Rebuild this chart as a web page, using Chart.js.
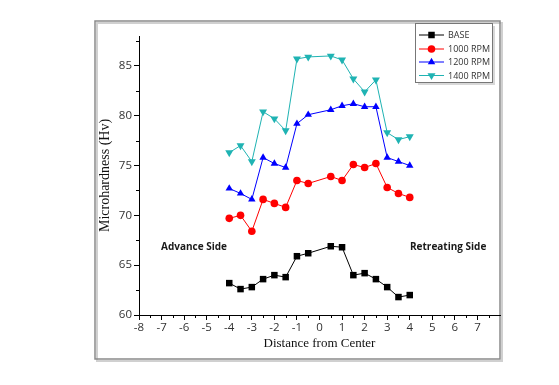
<!DOCTYPE html>
<html>
<head>
<meta charset="utf-8">
<script src="https://cdn.jsdelivr.net/npm/chart.js@4.4.0/dist/chart.umd.min.js"></script>
<style>
html,body{margin:0;padding:0;background:#fff;}
#wrap{width:559px;height:385px;position:relative;}
</style>
</head>
<body>
<div id="wrap"><canvas id="c" width="559" height="385"></canvas></div>
<script>
const positions = [-4, -3.5, -3, -2.5, -2, -1.5, -1, -0.5, 0.5, 1, 1.5, 2, 2.5, 3, 3.5, 4];
const base    = [63.2, 62.6, 62.8, 63.6, 64.0, 63.8, 65.9, 66.2, 66.9, 66.8, 64.0, 64.2, 63.6, 62.8, 61.8, 62.0];
const rpm1000 = [69.7, 70.0, 68.4, 71.6, 71.2, 70.8, 73.5, 73.2, 73.9, 73.5, 75.1, 74.8, 75.2, 72.8, 72.2, 71.8];
const rpm1200 = [72.7, 72.2, 71.6, 75.8, 75.2, 74.8, 79.2, 80.1, 80.6, 81.0, 81.2, 80.9, 80.9, 75.8, 75.4, 75.0];
const rpm1400 = [76.3, 77.0, 75.4, 80.4, 79.7, 78.5, 85.7, 85.9, 86.0, 85.6, 83.7, 82.4, 83.6, 78.3, 77.6, 77.9];
const seriesNames = ['BASE', '1000 RPM', '1200 RPM', '1400 RPM'];
const xTickLabels = [-8, -7, -6, -5, -4, -3, -2, -1, 0, 1, 2, 3, 4, 5, 6, 7];
const yTickLabels = [60, 65, 70, 75, 80, 85];
const sideLabels = ['Advance Side', 'Retreating Side'];

const toPts = arr => arr.map((v, i) => ({x: positions[i], y: v}));

const styles = [
  {color: '#000000', pointStyle: 'rect', radius: 4.6, rotation: 0},
  {color: '#ff0000', pointStyle: 'circle', radius: 3.8, rotation: 0},
  {color: '#0000ff', pointStyle: 'triangle', radius: 4.3, rotation: 0},
  {color: '#1fb3b3', pointStyle: 'triangle', radius: 4.6, rotation: 180}
];
const allData = [base, rpm1000, rpm1200, rpm1400];

const datasets = allData.map((d, i) => ({
  label: seriesNames[i],
  data: toPts(d),
  borderColor: styles[i].color,
  backgroundColor: styles[i].color,
  borderWidth: 1,
  pointStyle: styles[i].pointStyle,
  pointRadius: styles[i].radius,
  pointRotation: styles[i].rotation,
  pointBorderWidth: 0,
  pointHoverRadius: styles[i].radius,
  tension: 0,
  showLine: true
}));

const decor = {
  id: 'decor',
  beforeDraw(chart) {
    const ctx = chart.ctx;
    ctx.save();
    ctx.fillStyle = '#fff';
    ctx.fillRect(0, 0, chart.width, chart.height);
    ctx.strokeStyle = '#d0d0d0';
    ctx.lineWidth = 2;
    ctx.strokeRect(97, 23, 405, 338);
    ctx.strokeStyle = '#8a8a8a';
    ctx.lineWidth = 1.5;
    ctx.strokeRect(95, 21, 405, 338);
    ctx.restore();
  },
  afterDraw(chart) {
    const ctx = chart.ctx;
    const xs = chart.scales.x, ys = chart.scales.y;
    ctx.save();
    ctx.strokeStyle = '#000';
    ctx.lineWidth = 1;
    ctx.beginPath();
    for (let v = -7.5; v < 8; v += 1) {
      const px = Math.round(xs.getPixelForValue(v)) + 0.5;
      ctx.moveTo(px, ys.bottom);
      ctx.lineTo(px, ys.bottom + 3);
    }
    for (let v = 62.5; v < 88; v += 5) {
      const py = Math.round(ys.getPixelForValue(v)) + 0.5;
      ctx.moveTo(xs.left - 3, py);
      ctx.lineTo(xs.left, py);
    }
    ctx.stroke();

    ctx.fillStyle = '#1a1a1a';
    ctx.font = 'bold 10px "Open Sans"';
    ctx.textBaseline = 'middle';
    ctx.textAlign = 'left';
    ctx.fillText(sideLabels[0], 161, 247);
    ctx.fillText(sideLabels[1], 410, 247);

    const lx = 415, ly = 23, lw = 77, lh = 59;
    ctx.fillStyle = '#d8d8d8';
    ctx.fillRect(lx + 3, ly + 3, lw, lh);
    ctx.fillStyle = '#fff';
    ctx.fillRect(lx, ly, lw, lh);
    ctx.strokeStyle = '#777';
    ctx.lineWidth = 1;
    ctx.strokeRect(lx + 0.5, ly + 0.5, lw, lh);
    const rowsY = [35, 49, 62, 75.5];
    chart.data.datasets.forEach((ds, i) => {
      const y = rowsY[i];
      ctx.strokeStyle = ds.borderColor;
      ctx.lineWidth = 1;
      ctx.beginPath();
      ctx.moveTo(419, y);
      ctx.lineTo(444, y);
      ctx.stroke();
      ctx.fillStyle = ds.backgroundColor;
      Chart.helpers.drawPoint(ctx, {pointStyle: ds.pointStyle, radius: ds.pointRadius, rotation: ds.pointRotation, borderWidth: 0}, 431.5, y);
      ctx.fillStyle = '#333';
      ctx.font = '9px "Open Sans"';
      ctx.textAlign = 'left';
      ctx.textBaseline = 'middle';
      ctx.fillText(ds.label, 448, y + 0.5);
    });
    ctx.restore();
  }
};

new Chart(document.getElementById('c'), {
  type: 'scatter',
  data: {datasets},
  plugins: [decor],
  options: {
    responsive: false,
    animation: false,
    events: [],
    layout: {padding: {top: 36, right: 59, bottom: 34, left: 97}},
    plugins: {legend: {display: false}, tooltip: {enabled: false}},
    scales: {
      x: {
        type: 'linear',
        min: -8, max: 8,
        afterFit(scale) { scale.height = 36; },
        afterBuildTicks(scale) { scale.ticks = xTickLabels.map(v => ({value: v})); },
        ticks: {
          color: '#333',
          font: {family: '"Open Sans"', size: 11.5},
          padding: 1,
          maxRotation: 0,
          autoSkip: false,
          callback: v => String(v)
        },
        grid: {display: true, drawOnChartArea: false, drawTicks: true, tickLength: 5, color: '#000', tickColor: '#000'},
        border: {display: true, color: '#000', width: 1},
        title: {display: true, text: 'Distance from Center', font: {family: '"Liberation Serif"', size: 13}, color: '#111', padding: {top: 0, bottom: 0}}
      },
      y: {
        type: 'linear',
        min: 60, max: 88,
        afterFit(scale) { scale.width = 42; },
        afterBuildTicks(scale) { scale.ticks = yTickLabels.map(v => ({value: v})); },
        ticks: {
          color: '#333',
          font: {family: '"Open Sans"', size: 11.5},
          padding: 2,
          callback: v => String(v)
        },
        grid: {display: true, drawOnChartArea: false, drawTicks: true, tickLength: 5, color: '#000', tickColor: '#000'},
        border: {display: true, color: '#000', width: 1},
        title: {display: true, text: 'Microhardness (Hv)', font: {family: '"Liberation Serif"', size: 14}, color: '#111', padding: {top: 0, bottom: 0}}
      }
    }
  }
});
</script>
</body>
</html>
